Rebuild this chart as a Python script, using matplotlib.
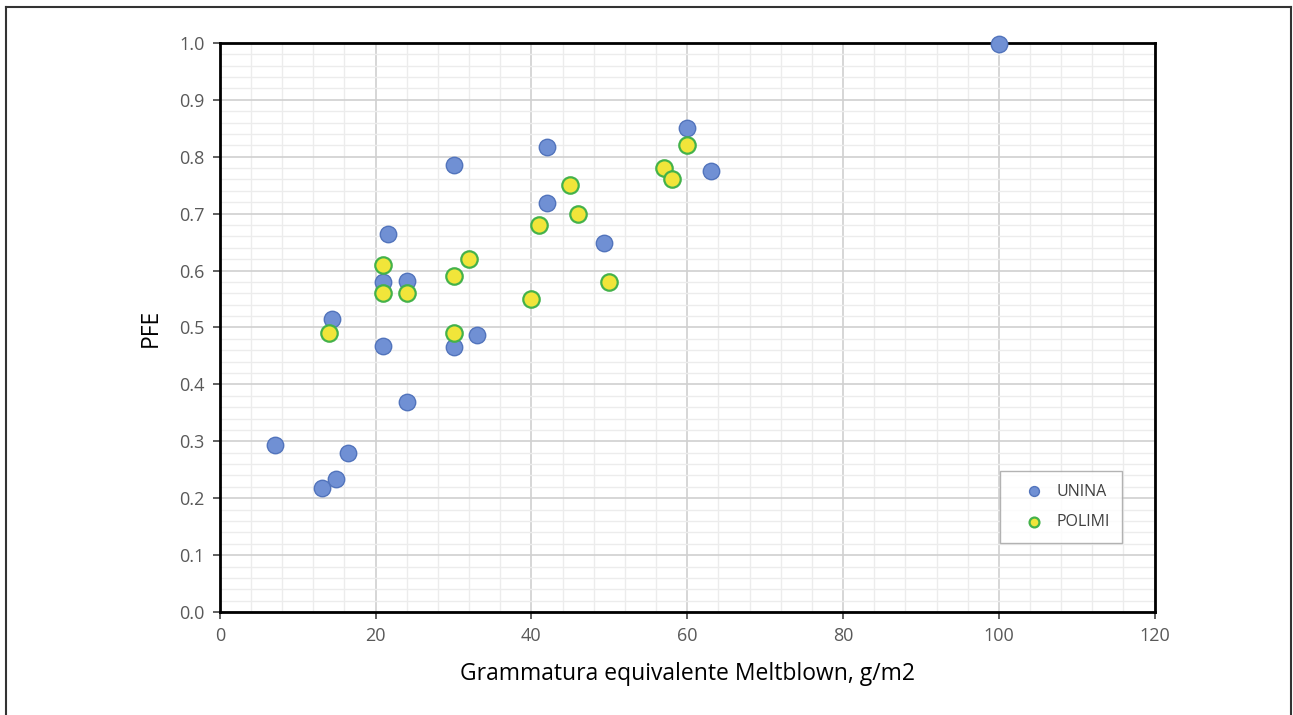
import matplotlib.pyplot as plt
from matplotlib.lines import Line2D
from matplotlib.ticker import MultipleLocator

# UNINA
unina_x = [100, 60, 63, 42, 30, 42, 49.3, 21.6, 21, 24, 14.4, 21, 30, 33, 24, 7.1, 16.4, 14.9, 13.1]
unina_y = [0.998, 0.85, 0.775, 0.817, 0.786, 0.719, 0.648, 0.664, 0.580, 0.582, 0.515, 0.467, 0.466, 0.487, 0.369, 0.293, 0.279, 0.234, 0.218]

# POLIMI
polimi_x = [60, 57, 58, 45, 46, 41, 32, 30, 21, 21, 24, 14, 30, 40, 50]
polimi_y = [0.82, 0.78, 0.76, 0.75, 0.70, 0.68, 0.62, 0.59, 0.61, 0.56, 0.56, 0.49, 0.49, 0.55, 0.58]

plt.rcParams['font.family'] = ['Open Sans', 'DejaVu Sans']

fig = plt.figure(figsize=(12.93, 7.15), dpi=100)
ax = fig.add_axes([0.170, 0.144, 0.723, 0.796])

ax.scatter(unina_x, unina_y, s=140, color='#7090d4', edgecolors='#5274bc', linewidths=1.0,
           label='UNINA', zorder=3, clip_on=False)
ax.scatter(polimi_x, polimi_y, s=140, color='#f1e53a', edgecolors='#44b24a', linewidths=1.6,
           label='POLIMI', zorder=3, clip_on=False)

ax.set_xlim(0, 120)
ax.set_ylim(0, 1.0)
ax.xaxis.set_major_locator(MultipleLocator(20))
ax.xaxis.set_minor_locator(MultipleLocator(4))
ax.yaxis.set_major_locator(MultipleLocator(0.1))
ax.yaxis.set_minor_locator(MultipleLocator(0.02))
ax.yaxis.set_major_formatter(plt.FormatStrFormatter('%.1f'))

ax.grid(which='major', color='#d0d0d0', linewidth=1.2, zorder=0)
ax.grid(which='minor', color='#ececec', linewidth=1.0, zorder=0)
ax.set_axisbelow(True)

for sp in ax.spines.values():
    sp.set_linewidth(2)
    sp.set_color('black')

ax.tick_params(which='major', length=5, width=1.2, color='#444444', labelsize=13,
               labelcolor='#595959', pad=6)
ax.tick_params(which='minor', length=0)

ax.set_xlabel('Grammatura equivalente Meltblown, g/m2', fontsize=16.5, labelpad=12)
ax.set_ylabel('PFE', fontsize=16.5, labelpad=12)

leg = ax.legend(loc='center', bbox_to_anchor=(0.9, 0.185), fontsize=11.5, frameon=True,
                fancybox=False, edgecolor='#a0a0a0', borderpad=0.8, labelspacing=0.9,
                handletextpad=0.1, markerscale=0.6, handlelength=2.6, borderaxespad=0)
leg.get_frame().set_linewidth(1.0)
for t in leg.get_texts():
    t.set_color('#404040')

# outer frame
W, H = 1293, 715
fig.add_artist(Line2D([6 / W, 6 / W], [0, 1 - 7 / H], color='#333333', linewidth=1.5))
fig.add_artist(Line2D([6 / W, 1291 / W], [1 - 7 / H, 1 - 7 / H], color='#333333', linewidth=1.5))
fig.add_artist(Line2D([1291 / W, 1291 / W], [0, 1 - 7 / H], color='#333333', linewidth=1.5))

fig.savefig('out.png', dpi=100)
